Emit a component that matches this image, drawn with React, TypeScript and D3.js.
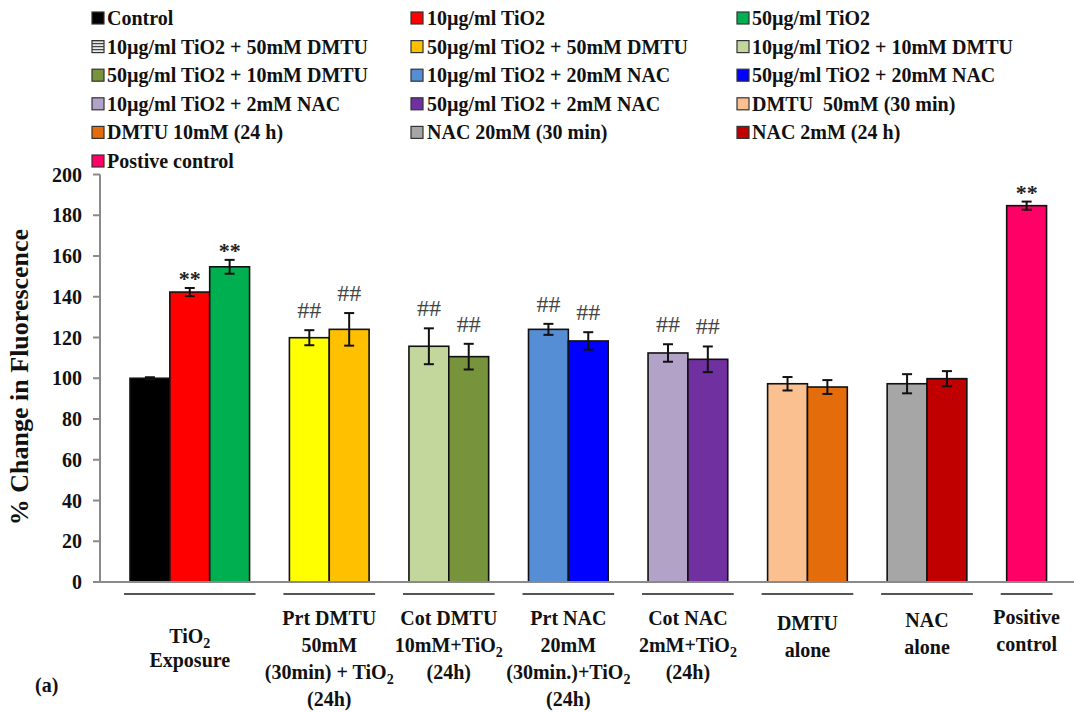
import React from "react";
import * as d3 from "d3";

// ---------- data ----------
const seriesNames = [
  "Control",
  "10µg/ml TiO2",
  "50µg/ml TiO2",
  "10µg/ml TiO2 + 50mM DMTU",
  "50µg/ml TiO2 + 50mM DMTU",
  "10µg/ml TiO2 + 10mM DMTU",
  "50µg/ml TiO2 + 10mM DMTU",
  "10µg/ml TiO2 + 20mM NAC",
  "50µg/ml TiO2 + 20mM NAC",
  "10µg/ml TiO2 + 2mM NAC",
  "50µg/ml TiO2 + 2mM NAC",
  "DMTU  50mM (30 min)",
  "DMTU 10mM (24 h)",
  "NAC 20mM (30 min)",
  "NAC 2mM (24 h)",
  "Postive control",
];
const barColors = [
  "#000000", "#FF0000", "#00B050", "#FFFF00", "#FFC000", "#C3D69B", "#77933C", "#558ED5",
  "#0000FF", "#B3A2C7", "#7030A0", "#FAC090", "#E46C0A", "#A6A6A6", "#C00000", "#FF0066",
];
const barValues = [100, 142.3, 154.7, 119.9, 124, 115.7, 110.6, 124, 118.3, 112.4, 109.3, 97.3, 95.7, 97.3, 99.8, 184.7];
const barErrors = [0.5, 2, 3.4, 3.7, 8, 8.8, 6.3, 2.7, 4.3, 4.3, 6.3, 3.3, 3.4, 4.7, 3.7, 2];
const barMarks = ["", "**", "**", "##", "##", "##", "##", "##", "##", "##", "##", "", "", "", "", "**"];
const groupSizes = [3, 2, 2, 2, 2, 2, 2, 1];
const groupLabels = [
  ["TiO_2", "Exposure"],
  ["Prt DMTU", "50mM", "(30min) + TiO_2", "(24h)"],
  ["Cot DMTU", "10mM+TiO_2", "(24h)"],
  ["Prt NAC", "20mM", "(30min.)+TiO_2", "(24h)"],
  ["Cot NAC", "2mM+TiO_2", "(24h)"],
  ["DMTU", "alone"],
  ["NAC", "alone"],
  ["Positive", "control"],
];
const yTicks = [0, 20, 40, 60, 80, 100, 120, 140, 160, 180, 200];
const yTitle = "% Change in Fluorescence";
const panelLabel = "(a)";

// ---------- layout ----------
const W = 1074;
const H = 712;
const FONT = "'Liberation Serif', 'Times New Roman', Times, serif";
const axisX = 100;
const labelFirstBaseline = [643, 625, 625, 625, 625, 630, 627, 624];
const labelSpacing = [24, 27, 27, 27, 27, 27, 27, 27];

// slot positions of the bars (one empty slot between groups)
const slots: number[] = [];
const groupRanges: [number, number][] = [];
{
  let s = 0;
  groupSizes.forEach((n) => {
    groupRanges.push([s, s + n]);
    for (let i = 0; i < n; i++) slots.push(s + i);
    s += n + 1;
  });
}

const x = d3.scaleLinear().domain([0, 23]).range([130, 130 + 23 * 39.85]);
const y = d3.scaleLinear().domain([0, 200]).range([582, 174.5]);

function renderLabel(t: string) {
  const idx = t.indexOf("_");
  if (idx < 0) return t;
  return (
    <>
      {t.slice(0, idx)}
      <tspan fontSize="14" dy="5">{t.slice(idx + 1)}</tspan>
    </>
  );
}

export default function App() {
  const barW = x(1) - x(0);
  return (
    <svg width={W} height={H} style={{ position: "absolute", left: 0, top: 0, background: "#fff" }} fontFamily={FONT}>
      <defs>
        <pattern id="stripes" width="4" height="3" patternUnits="userSpaceOnUse">
          <rect width="4" height="3" fill="#e8e8e8" />
          <rect y="1" width="4" height="1.2" fill="#444" />
        </pattern>
      </defs>
      <rect width={W} height={H} fill="#fff" />

      {/* legend */}
      {seriesNames.map((name, i) => {
        const col = i % 3;
        const row = Math.floor(i / 3);
        const sx = [92, 411, 737][col];
        const tx = [107, 427, 752][col];
        const cy = 18 + row * 28.6;
        return (
          <g key={name}>
            <rect x={sx} y={cy - 6} width={12} height={12} fill={i === 3 ? "url(#stripes)" : barColors[i]} stroke="#333" strokeWidth={1.2} />
            <text x={tx} y={cy + 7} fontSize={20} fontWeight="bold" fill="#111" style={{ whiteSpace: "pre" }}>
              {name}
            </text>
          </g>
        );
      })}

      {/* y axis */}
      <line x1={axisX} x2={axisX} y1={y(200)} y2={y(0)} stroke="#8a8a8a" strokeWidth={2} />
      {yTicks.map((t) => (
        <g key={t}>
          <line x1={axisX - 7} x2={axisX} y1={y(t)} y2={y(t)} stroke="#8a8a8a" strokeWidth={2} />
          <text x={82} y={y(t) + 7} fontSize={20} fontWeight="bold" textAnchor="end" fill="#111">
            {t}
          </text>
        </g>
      ))}
      <text
        transform={`translate(28, 377) rotate(-90)`}
        fontSize={26}
        fontWeight="bold"
        textAnchor="middle"
        fill="#111"
        style={{ whiteSpace: "pre" }}
      >
        {yTitle}
      </text>

      {/* bars */}
      {barValues.map((v, i) => {
        const x0 = x(slots[i]);
        const cx = x0 + barW / 2;
        const e = barErrors[i];
        const top = y(v + e);
        return (
          <g key={i}>
            <rect x={x0} y={y(v)} width={barW} height={y(0) - y(v)} fill={barColors[i]} stroke="#111" strokeWidth={1.6} />
            <line x1={cx} x2={cx} y1={y(v + e)} y2={y(v - e)} stroke="#111" strokeWidth={2} />
            <line x1={cx - 5} x2={cx + 5} y1={y(v + e)} y2={y(v + e)} stroke="#111" strokeWidth={2} />
            <line x1={cx - 5} x2={cx + 5} y1={y(v - e)} y2={y(v - e)} stroke="#111" strokeWidth={2} />
            {barMarks[i] === "**" && (
              <text x={cx} y={top - 2} fontSize={22} fontWeight="bold" textAnchor="middle" fill="#222">
                **
              </text>
            )}
            {barMarks[i] === "##" && (
              <text x={cx} y={top - 12} fontSize={24} textAnchor="middle" fill="#444">
                ##
              </text>
            )}
          </g>
        );
      })}

      {/* x axis */}
      <line x1={axisX} x2={W} y1={y(0)} y2={y(0)} stroke="#8a8a8a" strokeWidth={2} />

      {/* group underlines and labels */}
      {groupRanges.map(([a, b], g) => {
        const x1 = x(a) - 6;
        const x2 = x(b) + 6;
        const cx = (x(a) + x(b)) / 2;
        return (
          <g key={g}>
            <line x1={x1} x2={x2} y1={594} y2={594} stroke="#555" strokeWidth={2.2} />
            {groupLabels[g].map((ln, k) => (
              <text
                key={k}
                x={cx}
                y={labelFirstBaseline[g] + k * labelSpacing[g]}
                fontSize={20}
                fontWeight="bold"
                textAnchor="middle"
                fill="#111"
              >
                {renderLabel(ln)}
              </text>
            ))}
          </g>
        );
      })}

      <text x={35} y={692} fontSize={20} fontWeight="bold" fill="#111">
        {panelLabel}
      </text>
    </svg>
  );
}
